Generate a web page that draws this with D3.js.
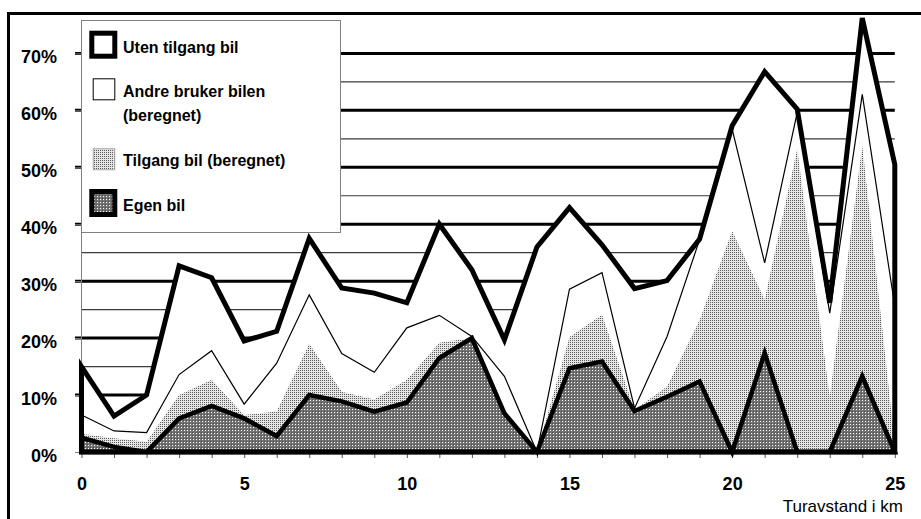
<!DOCTYPE html>
<html>
<head>
<meta charset="utf-8">
<script src="https://cdn.jsdelivr.net/npm/d3@7"></script>
<style>
  html, body { margin: 0; padding: 0; background: #fff; }
  svg { display: block; }
</style>
</head>
<body>
<script>
// ---- Data (values per series, in percent) ----
const km = [0,1,2,3,4,5,6,7,8,9,10,11,12,13,14,15,16,17,18,19,20,21,22,23,24,25];
const egenBil      = [2.5,0.9,0,5.9,8.1,5.9,2.8,10.0,8.9,7.1,8.7,16.5,20.0,6.8,0,14.7,15.9,7.2,9.7,12.4,0,17.4,0,0,13.3,0];
const tilgangBil   = [0.7,1.5,1.8,4.1,4.6,0.6,4.3,9.0,1.7,2.1,4.0,2.7,0,0,0,5.5,8.2,0.2,1.8,10.8,38.8,9.4,53.2,9.7,40.5,1.5];
const andreBruker  = [3.3,1.3,1.6,3.6,5.1,1.9,8.5,8.6,6.7,4.8,9.1,4.8,0.3,6.5,0,8.4,7.4,0.3,8.8,14.1,17.9,6.4,6.4,14.7,9.0,24.1];
const utenTilgang  = [8.5,2.6,6.6,19.1,12.8,11.1,5.6,9.9,11.5,13.9,4.4,16.0,11.7,6.4,36.0,14.3,4.9,21.0,9.8,0.1,0.6,33.6,0.6,1.8,13.4,24.9];
const yTicks = [0,10,20,30,40,50,60,70];
const xLabels = [0,5,10,15,20,25];
const legendLabels = [["Uten tilgang bil"],["Andre bruker bilen","(beregnet)"],["Tilgang bil (beregnet)"],["Egen bil"]];
const xTitle = "Turavstand i km";

const W = 921, H = 519;
const svg = d3.select("body").append("svg").attr("width", W).attr("height", H);
const defs = svg.append("defs");

// patterns
const pDark = defs.append("pattern").attr("id","pDark").attr("patternUnits","userSpaceOnUse")
  .attr("width",3).attr("height",3);
pDark.append("rect").attr("width",3).attr("height",3).attr("fill","#727272");
pDark.append("rect").attr("x",1).attr("y",1).attr("width",1).attr("height",1).attr("fill","#ffffff");
pDark.append("rect").attr("x",0).attr("y",0).attr("width",1).attr("height",1).attr("fill","#4a4a4a");

const pLight = defs.append("pattern").attr("id","pLight").attr("patternUnits","userSpaceOnUse")
  .attr("width",2).attr("height",2);
pLight.append("rect").attr("width",2).attr("height",2).attr("fill","#e6e6e6");
pLight.append("rect").attr("x",0).attr("y",0).attr("width",1).attr("height",1).attr("fill","#5a5a5a");

const x = d3.scaleLinear().domain([0,25]).range([81.5, 894.8]);
const y = d3.scaleLinear().domain([0,70]).range([452, 53.4]);

// outer frame
svg.append("rect").attr("x",8.5).attr("y",13.5).attr("width",2000).attr("height",2000)
  .attr("fill","none").attr("stroke","#000").attr("stroke-width",3);

// gridlines
const grid = svg.append("g");
d3.range(5, 71, 5).forEach(v => {
  const major = v % 10 === 0;
  grid.append("line")
    .attr("x1", major ? 75 : 81).attr("x2", x(25))
    .attr("y1", y(v)).attr("y2", y(v))
    .attr("stroke", major ? "#000" : "#3a3a3a")
    .attr("stroke-width", major ? 3 : 1.2);
});

// stacked data
const rows = km.map((k,i) => ({km:k, egen:egenBil[i], tilg:tilgangBil[i], andre:andreBruker[i], uten:utenTilgang[i]}));
const stack = d3.stack().keys(["egen","tilg","andre","uten"]);
const series = stack(rows);
const [sE, sT, sA, sU] = series;

const areaFull = d3.area().x((d,i)=>x(km[i])).y0(y(0)).y1(d=>y(d[1]));
const lineTop = d3.line().x((d,i)=>x(km[i])).y(d=>y(d[1]));

// fills (from top series downward so lower ones overlay)
svg.append("path").datum(sU).attr("d", areaFull).attr("fill","#fff");
svg.append("path").datum(sA).attr("d", areaFull).attr("fill","#fff");
svg.append("path").datum(sT).attr("d", areaFull).attr("fill","url(#pLight)");
svg.append("path").datum(sE).attr("d", areaFull).attr("fill","url(#pDark)");

// axes
const yAxis = d3.axisLeft(y).tickValues(yTicks).tickSize(6).tickSizeOuter(0)
  .tickPadding(18).tickFormat(d => d + "%");
const gy = svg.append("g").attr("transform","translate(81,0)").call(yAxis);
gy.select(".domain").attr("stroke","#808080");
gy.selectAll(".tick line").attr("stroke","#808080");
gy.selectAll("text").attr("font-family","'Liberation Sans', Arial, sans-serif")
  .attr("font-weight","bold").attr("font-size",18).attr("fill","#000").attr("dy","0.5em");

const xAxis = d3.axisBottom(x).tickValues(km).tickSize(6).tickSizeOuter(0)
  .tickPadding(19).tickFormat(d => xLabels.includes(d) ? d : "");
const gx = svg.append("g").attr("transform",`translate(0,${y(0)})`).call(xAxis);
gx.select(".domain").attr("stroke","none");
gx.selectAll(".tick line").attr("stroke","#555");
gx.selectAll("text").attr("font-family","'Liberation Sans', Arial, sans-serif")
  .attr("font-weight","bold").attr("font-size",18).attr("fill","#000");

// strokes
svg.append("path").datum(sA).attr("d", lineTop).attr("fill","none")
  .attr("stroke","#000").attr("stroke-width",1.2).attr("stroke-linejoin","miter");
svg.append("path").datum(sE).attr("d", areaFull).attr("fill","none")
  .attr("stroke","#000").attr("stroke-width",4.5).attr("stroke-linejoin","miter").attr("stroke-miterlimit",4);
svg.append("path").datum(sU).attr("d", areaFull).attr("fill","none")
  .attr("stroke","#000").attr("stroke-width",5).attr("stroke-linejoin","miter").attr("stroke-miterlimit",4);

// x title
svg.append("text").attr("x",903).attr("y",512).attr("text-anchor","end")
  .attr("font-family","'Liberation Sans', Arial, sans-serif").attr("font-size",17)
  .text(xTitle);

// legend
const lg = svg.append("g");
lg.append("rect").attr("x",81.5).attr("y",20.5).attr("width",259).attr("height",212)
  .attr("fill","#fff").attr("stroke","#808080").attr("stroke-width",1);
// symbols
lg.append("rect").attr("x",91.8).attr("y",33.2).attr("width",23).attr("height",23)
  .attr("fill","#fff").attr("stroke","#000").attr("stroke-width",5);
lg.append("rect").attr("x",93.2).attr("y",78.8).attr("width",21.6).attr("height",21)
  .attr("fill","#fff").attr("stroke","#000").attr("stroke-width",1);
lg.append("rect").attr("x",93.2).attr("y",148.8).attr("width",21.6).attr("height",21)
  .attr("fill","url(#pLight)").attr("stroke","#999").attr("stroke-width",0.8);
lg.append("rect").attr("x",91.8).attr("y",191.5).attr("width",23).attr("height",23)
  .attr("fill","url(#pDark)").attr("stroke","#000").attr("stroke-width",5);

const legendBaselines = [[53.3],[96.7,121],[166],[211]];
legendLabels.forEach((lines, i) => {
  lines.forEach((t, j) => {
    lg.append("text").attr("x",123).attr("y",legendBaselines[i][j])
      .attr("font-family","'Liberation Sans', Arial, sans-serif")
      .attr("font-weight","bold").attr("font-size",16).text(t);
  });
});
</script>
</body>
</html>
